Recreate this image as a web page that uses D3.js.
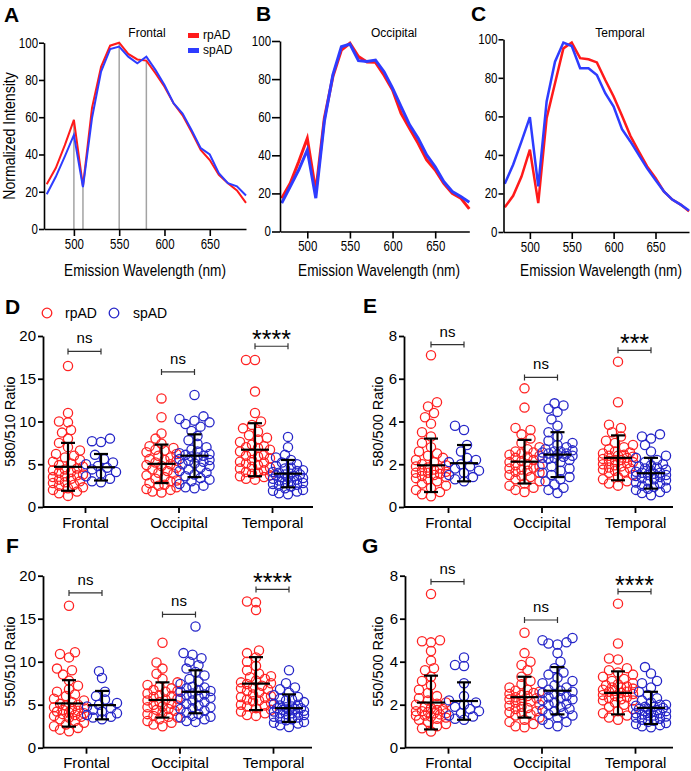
<!DOCTYPE html>
<html><head><meta charset="utf-8">
<script src="https://cdn.jsdelivr.net/npm/d3@7"></script>
<style>
body{margin:0;background:#fff;}
svg{display:block;}
text{font-family:"Liberation Sans",Arial,sans-serif;fill:#000;}
</style>
</head><body>
<svg id="c" width="691" height="771"></svg>
<script>
// ---------- spectra (A-C) ----------
const wavelengths = [470,480,490,500,510,520,530,540,550,560,570,580,590,600,610,620,630,640,650,660,670,680,690];
const frontalRp   = [24,32.7,45,58.6,23,65,87,98.4,100,94,91,90.4,83.6,76.4,67.5,61,52,42.5,37,29,24.6,20.7,14];
const frontalSp   = [18.7,28,39,50.5,22.5,59.5,84.5,96.6,97.9,92.5,89,92.5,85.4,77.3,67.5,62,53,43.4,40,30,24.6,22.9,18];
const occipitalRp = [17.5,25.3,36.7,48.9,21,59.4,81.3,95.3,98.8,91.8,89,88.8,82,74.3,62,54,46.3,37.6,32.3,25.3,20,17.5,11.9];
const occipitalSp = [14.9,23.6,32.3,42.8,17.5,57.7,82.2,97,98.4,89.7,89.2,90,83.9,75.2,65.6,56,49,40.2,34,26.2,21,18.4,15.4];
const temporalRp  = [12.8,18.8,28.8,42.7,15,59,77.2,95.3,98.3,90.2,89.6,88,78.9,70.3,60.3,49.9,41.8,34,28,21.1,16.8,14.2,10.7];
const temporalSp  = [25,34.9,47,59.6,23.7,67.7,88.4,98.3,96.5,85,85,81.5,72,65.1,53.4,47,40,33,27,21.1,16.8,14.2,11.2];
const markerWavelengths = [500,510,550,580];
const specTicksX = [500,550,600,650];
const specTicksY = [0,20,40,60,80,100];
const seriesNames = ["rpAD","spAD"];

// ---------- ratio scatter (D-G) ----------
const regions = ["Frontal","Occipital","Temporal"];
// D: 580/510
const D_frRp=[16.5,11.0,10.0,9.9,9.0,8.7,8.0,7.5,7.0,6.6,6.2,6.0,5.8,5.5,5.3,5.1,4.9,4.7,4.5,4.3,4.1,4.0,3.8,3.6,3.5,3.3,3.2,3.0,2.9,2.8,2.6,2.5,2.3,2.2,2.0,1.8,1.6,1.3,3.7,4.4];
const D_frSp=[8.0,7.7,7.6,6.1,5.6,5.2,5.0,4.8,4.6,4.4,4.1,3.9,3.6,3.3,3.0,2.9];
const D_ocRp=[12.7,10.5,8.6,8.0,7.4,7.1,6.9,6.6,6.4,6.2,6.0,5.8,5.6,5.4,5.2,5.0,4.8,4.6,4.4,4.2,4.0,3.9,3.7,3.5,3.3,3.1,3.0,2.8,2.6,2.5,2.3,2.1,2.0,1.8,1.7,4.9,5.5,6.7];
const D_ocSp=[13.1,10.6,10.3,10.1,9.9,9.7,9.4,8.9,8.3,7.8,7.4,7.0,6.7,6.5,6.3,6.1,6.0,5.8,5.6,5.5,5.3,5.1,5.0,4.8,4.6,4.4,4.2,4.0,3.8,3.6,3.4,3.2,3.0,2.7,2.5,2.3,2.2,5.9,6.2,5.4];
const D_teRp=[17.2,17.2,13.5,11.0,10.0,9.6,9.2,8.8,8.4,8.1,7.9,7.6,7.3,7.1,6.9,6.7,6.5,6.3,6.1,5.9,5.7,5.5,5.3,5.1,4.9,4.7,4.5,4.3,4.1,3.9,3.7,3.5,3.3,3.2,3.6,4.0,4.6,5.2,6.0,7.0];
const D_teSp=[8.2,7.0,6.1,5.8,5.5,5.2,5.0,4.8,4.6,4.5,4.3,4.2,4.0,3.9,3.8,3.7,3.6,3.5,3.4,3.3,3.2,3.1,3.0,2.9,2.8,2.6,2.5,2.4,2.2,2.0,1.9,1.8,1.6,1.5,3.5,3.8,4.1,2.7];
const D_mean=[4.7,4.65,5.05,6.0,6.7,3.9];
const D_sd=[2.8,1.55,2.25,2.5,3.1,1.6];
const D_sig=["ns","ns","****"], D_sigY=[18.2,15.8,18.8];
// E: 580/500
const E_frRp=[7.1,4.9,4.7,4.4,4.2,3.9,3.5,3.3,3.0,2.8,2.6,2.5,2.4,2.3,2.2,2.1,2.0,1.95,1.9,1.85,1.8,1.75,1.7,1.65,1.6,1.55,1.5,1.45,1.4,1.35,1.3,1.2,1.1,1.0,0.9,0.8,0.7,0.6,0.5,1.6];
const E_frSp=[3.8,3.6,2.9,2.6,2.3,2.2,2.1,2.0,1.9,1.8,1.7,1.6,1.5,1.4,1.3,1.2];
const E_ocRp=[5.55,4.65,3.7,3.6,3.4,3.2,3.0,2.8,2.7,2.6,2.5,2.45,2.4,2.3,2.2,2.15,2.1,2.0,1.95,1.9,1.85,1.8,1.7,1.65,1.6,1.5,1.45,1.4,1.3,1.2,1.1,1.0,0.9,0.8,0.7,2.55,2.35,1.75];
const E_ocSp=[4.85,4.75,4.6,4.45,4.1,3.8,3.5,3.3,3.1,3.0,2.9,2.8,2.7,2.65,2.6,2.55,2.5,2.45,2.4,2.35,2.3,2.25,2.2,2.1,2.0,1.9,1.8,1.7,1.6,1.5,1.4,1.3,1.2,1.05,0.9,0.8,0.65,2.6,2.5,2.3];
const E_teRp=[6.8,4.9,3.85,3.7,3.5,3.3,3.1,3.0,2.9,2.8,2.7,2.6,2.55,2.5,2.45,2.4,2.35,2.3,2.25,2.2,2.15,2.1,2.05,2.0,1.95,1.9,1.85,1.8,1.75,1.7,1.65,1.6,1.5,1.4,1.3,1.2,1.1,1.0,2.2,2.4];
const E_teSp=[3.4,3.3,3.2,2.9,2.6,2.4,2.3,2.2,2.1,2.0,1.95,1.9,1.85,1.8,1.75,1.7,1.65,1.6,1.55,1.5,1.45,1.4,1.35,1.3,1.25,1.2,1.15,1.1,1.0,0.95,0.9,0.85,0.8,0.7,0.65,0.55,1.6,1.5];
const E_mean=[1.95,2.05,2.12,2.45,2.3,1.58];
const E_sd=[1.25,0.85,1.02,1.05,1.05,0.72];
const E_sig=["ns","ns","***"], E_sigY=[7.6,6.06,7.33];
// F: 550/510
const F_frRp=[16.5,11.1,10.9,10.5,9.2,9.0,8.5,7.8,7.2,6.8,6.5,6.2,6.0,5.7,5.5,5.3,5.1,4.9,4.7,4.5,4.4,4.3,4.2,4.1,4.0,3.9,3.8,3.7,3.6,3.5,3.3,3.1,2.9,2.7,2.5,2.3,2.1,1.9,4.6,5.0];
const F_frSp=[8.9,8.1,6.5,6.0,5.6,5.2,5.0,4.8,4.6,4.4,4.2,4.0,3.8,3.6,3.5,3.3];
const F_ocRp=[12.2,9.9,9.2,8.6,8.0,7.6,7.3,7.1,6.9,6.7,6.5,6.3,6.1,5.9,5.7,5.5,5.3,5.1,4.9,4.7,4.5,4.3,4.1,3.9,3.7,3.5,3.3,3.1,2.9,2.7,2.5,5.0,5.6,6.0,4.8,4.4,3.6,6.6];
const F_ocSp=[14.1,11.0,10.8,10.4,10.0,9.6,9.2,8.8,8.4,8.0,7.7,7.4,7.1,6.9,6.7,6.5,6.3,6.1,5.9,5.7,5.5,5.3,5.1,4.9,4.7,4.5,4.3,4.1,3.9,3.7,3.5,3.3,3.1,3.0,6.6,6.2,5.8,7.0,4.6,3.6];
const F_teRp=[17.0,16.9,16.0,11.3,11.0,10.5,10.0,9.5,9.0,8.6,8.3,8.0,7.8,7.6,7.4,7.2,7.0,6.8,6.6,6.4,6.2,6.0,5.8,5.6,5.4,5.2,5.0,4.8,4.6,4.4,4.2,4.0,3.8,3.7,5.9,6.9,7.5,8.2,4.9,5.5];
const F_teSp=[9.0,7.5,7.0,6.8,6.4,6.1,5.9,5.7,5.5,5.3,5.1,4.9,4.8,4.7,4.6,4.5,4.4,4.3,4.2,4.1,4.0,3.9,3.8,3.6,3.4,3.2,3.0,2.8,2.6,2.4,4.6,4.4,5.0,3.5,3.3,2.9,5.6,4.0];
const F_mean=[5.15,4.95,5.55,6.5,7.45,4.6];
const F_sd=[2.7,1.65,2.05,2.5,3.08,1.6];
const F_sig=["ns","ns","****"], F_sigY=[18.0,15.5,18.4];
// G: 550/500
const G_frRp=[7.15,5.0,4.95,4.9,4.5,4.05,3.7,3.6,3.3,3.1,2.9,2.7,2.55,2.4,2.3,2.2,2.1,2.0,1.9,1.85,1.8,1.75,1.7,1.65,1.6,1.55,1.5,1.45,1.4,1.35,1.3,1.2,1.1,1.0,0.9,0.75,1.6,1.5,1.7,2.05];
const G_frSp=[4.2,3.85,3.8,3.0,2.4,2.2,2.1,2.0,1.9,1.8,1.7,1.6,1.5,1.45,1.35,1.3];
const G_ocRp=[5.35,4.4,4.0,3.85,3.6,3.3,3.1,2.95,2.8,2.7,2.6,2.5,2.45,2.4,2.3,2.25,2.2,2.1,2.0,1.95,1.9,1.8,1.7,1.65,1.6,1.5,1.4,1.3,1.2,1.1,1.0,0.95,2.35,2.55,2.15,1.85,2.65,1.55];
const G_ocSp=[5.1,5.0,4.9,4.85,4.8,4.4,4.0,3.7,3.4,3.25,3.1,3.0,2.9,2.8,2.7,2.6,2.5,2.4,2.3,2.2,2.1,2.0,1.9,1.8,1.7,1.6,1.5,1.4,1.3,1.2,1.1,1.0,2.65,2.55,2.35,2.25,2.05,1.75,3.5,1.55];
const G_teRp=[6.7,4.85,4.15,4.1,3.7,3.6,3.4,3.3,3.2,3.1,3.0,2.95,2.9,2.85,2.8,2.75,2.7,2.65,2.6,2.55,2.5,2.45,2.4,2.35,2.3,2.25,2.2,2.1,2.0,1.9,1.8,1.7,1.6,1.5,1.4,1.3,2.6,2.8,2.2,3.5];
const G_teSp=[3.75,3.45,3.1,3.0,2.8,2.6,2.45,2.3,2.2,2.1,2.0,1.95,1.9,1.85,1.8,1.75,1.7,1.65,1.6,1.55,1.5,1.45,1.4,1.35,1.3,1.25,1.2,1.15,1.1,1.05,1.0,0.95,1.8,1.9,2.0,1.7,1.6,1.5];
const G_mean=[2.1,2.17,2.35,2.65,2.55,1.85];
const G_sd=[1.25,0.87,0.95,1.1,1.0,0.75];
const G_sig=["ns","ns","****"], G_sigY=[7.72,5.94,7.26];

// ---------- drawing ----------
const svg = d3.select("#c");
const RED = "#ff1a1a", BLUE = "#2e3cff";
const SRED = "#ff2222", SBLUE = "#2626c8";

function letter(t, x, y){
  svg.append("text").attr("x",x).attr("y",y).attr("font-size",21).attr("font-weight","bold").text(t);
}
// condense a text horizontally (narrow-font look)
function condense(sel, ratio){
  sel.each(function(){
    const L = this.getComputedTextLength();
    d3.select(this).attr("textLength",L*ratio).attr("lengthAdjust","spacingAndGlyphs");
  });
}
// narrow label drawn through a scale transform
function narrowLabel(x, y, size, ratio, txt, rot){
  const t = rot ? `translate(${x},${y}) rotate(-90) scale(${ratio},1)` : `translate(${x},${y}) scale(${ratio},1)`;
  svg.append("text").attr("transform",t).attr("text-anchor","middle").attr("font-size",size).text(txt);
}

function spectrum(cfg){
  const x = d3.scaleLinear().domain([cfg.xmin,690]).range([cfg.x0,cfg.x1]);
  const y = d3.scaleLinear().domain([0,100]).range([cfg.y0,cfg.y1]);
  const g = svg.append("g");
  if(cfg.markers){
    cfg.markers.forEach(w=>{
      const i = wavelengths.indexOf(w);
      g.append("line").attr("x1",x(w)).attr("x2",x(w)).attr("y1",y(0)).attr("y2",y(cfg.rp[i]))
        .attr("stroke","#a3a3a3").attr("stroke-width",1.5);
    });
  }
  const line = d3.line().x((d,i)=>x(wavelengths[i])).y(d=>y(d));
  g.append("path").datum(cfg.rp).attr("d",line).attr("fill","none").attr("stroke",RED).attr("stroke-width",cfg.lw);
  g.append("path").datum(cfg.sp).attr("d",line).attr("fill","none").attr("stroke",BLUE).attr("stroke-width",cfg.lw);
  const ax = g.append("g").attr("transform",`translate(0,${cfg.y0})`)
    .call(d3.axisBottom(x).tickValues(specTicksX).tickSize(7).tickPadding(3).tickSizeOuter(0));
  const ay = g.append("g").attr("transform",`translate(${cfg.x0},0)`)
    .call(d3.axisLeft(y).tickValues(specTicksY).tickSize(cfg.tl).tickPadding(1).tickSizeOuter(0));
  [ax,ay].forEach(a=>{
    a.selectAll("path,line").attr("stroke","#000").attr("stroke-width",1.6);
    a.selectAll("text").attr("font-size",14).attr("fill","#000").call(condense,0.82);
  });
  narrowLabel(cfg.labelX, 276, 17, 0.8, "Emission Wavelength (nm)");
  g.append("text").attr("x",cfg.titleX).attr("y",37).attr("text-anchor","middle").attr("font-size",12).text(cfg.title);
}

spectrum({xmin:467,x0:44,x1:246,y0:229,y1:42.7,rp:frontalRp,sp:frontalSp,lw:2,tl:5,labelX:145,title:"Frontal",titleX:147,markers:markerWavelengths});
spectrum({xmin:468,x0:280,x1:469.3,y0:231.5,y1:41,rp:occipitalRp,sp:occipitalSp,lw:3,tl:8,labelX:379,title:"Occipital",titleX:394});
spectrum({xmin:468.5,x0:503.5,x1:689,y0:232,y1:39.3,rp:temporalRp,sp:temporalSp,lw:2.5,tl:5,labelX:601,title:"Temporal",titleX:620});

narrowLabel(15, 136, 16, 0.88, "Normalized Intensity", true);
// legend A
[RED,BLUE].forEach((c,i)=>{
  svg.append("rect").attr("x",188).attr("y",33+i*15).attr("width",11).attr("height",5).attr("fill",c);
  svg.append("text").attr("x",203).attr("y",38.5+i*15).attr("font-size",12).text(seriesNames[i]);
});
letter("A",4,22); letter("B",256,21); letter("C",471,21);

// beeswarm layout (positions only)
function swarm(vals, y, cx, minD, maxOff, step){
  const order = vals.map((v,i)=>({v,py:y(v)})).sort((a,b)=>a.v-b.v);
  const placed=[];
  order.forEach(p=>{
    let best=null,bestScore=-1;
    for(let k=0;k*step<=maxOff;k++){
      const cands = k===0?[0]:[-k*step,k*step];
      for(const off of cands){
        let md=Infinity;
        placed.forEach(q=>{const d=Math.hypot(q.px-(cx+off),q.py-p.py); if(d<md) md=d;});
        if(md>=minD){best=off;bestScore=Infinity;break;}
        if(md>bestScore){bestScore=md;best=off;}
      }
      if(bestScore===Infinity) break;
    }
    p.px=cx+best; placed.push(p);
  });
  return placed;
}

function ratioPanel(cfg){
  const y = d3.scaleLinear().domain([0,cfg.max]).range([cfg.y0,cfg.y1]);
  const x = d3.scalePoint().domain(regions).range([cfg.c0,cfg.c1]);
  const g = svg.append("g");
  const groups = cfg.data;
  groups.forEach((vals,gi)=>{
    const cat = regions[Math.floor(gi/2)];
    const isRp = gi%2===0;
    const cx = x(cat) + (isRp?-17:16);
    const pts = swarm(vals,y,cx,7.5,15,3);
    g.selectAll(null).data(pts).enter().append("circle")
      .attr("cx",d=>d.px).attr("cy",d=>d.py).attr("r",4.6)
      .attr("fill","none").attr("stroke",isRp?SRED:SBLUE).attr("stroke-width",1.3);
  });
  groups.forEach((vals,gi)=>{
    const cat = regions[Math.floor(gi/2)];
    const cx = x(cat) + (gi%2===0?-17:16);
    const m = cfg.mean[gi], s = cfg.sd[gi];
    g.append("line").attr("x1",cx).attr("x2",cx).attr("y1",y(m-s)).attr("y2",y(m+s)).attr("stroke","#000").attr("stroke-width",2.2);
    g.append("line").attr("x1",cx-14).attr("x2",cx+14).attr("y1",y(m)).attr("y2",y(m)).attr("stroke","#000").attr("stroke-width",2.2);
    [m-s,m+s].forEach(v=>g.append("line").attr("x1",cx-7).attr("x2",cx+7).attr("y1",y(v)).attr("y2",y(v)).attr("stroke","#000").attr("stroke-width",2.2));
  });
  regions.forEach((r,i)=>{
    const xa = x(r)-17, xb = x(r)+16, yy = y(cfg.sigY[i]);
    g.append("path").attr("d",`M${xa},${yy-3}V${yy+3}M${xa},${yy}H${xb}M${xb},${yy-3}V${yy+3}`)
      .attr("stroke","#333").attr("stroke-width",1.2).attr("fill","none");
    const t = cfg.sig[i];
    if(t==="ns"){
      g.append("text").attr("x",(xa+xb)/2).attr("y",yy-8).attr("text-anchor","middle").attr("font-size",15).text(t);
    } else {
      g.append("text").attr("x",(xa+xb)/2).attr("y",yy+2).attr("text-anchor","middle").attr("font-size",25).text(t);
    }
  });
  const ay = g.append("g").attr("transform",`translate(${cfg.x0},0)`)
    .call(d3.axisLeft(y).tickValues(cfg.ticks).tickSize(5).tickPadding(2).tickSizeOuter(0));
  const ax = g.append("g").attr("transform",`translate(0,${cfg.y0})`)
    .call(d3.axisBottom(x).tickSize(6).tickPadding(4).tickSizeOuter(0));
  ax.select(".domain").attr("d",`M${cfg.x0},0H${cfg.x1}`);
  [ax,ay].forEach(a=>{
    a.selectAll("path,line").attr("stroke","#000").attr("stroke-width",1.8);
    a.selectAll("text").attr("font-size",15).attr("fill","#000");
  });
  g.append("text").attr("transform",`translate(${cfg.labelX},${(cfg.y0+cfg.y1)/2}) rotate(-90)`)
    .attr("text-anchor","middle").attr("font-size",14.5).text(cfg.label);
  letter(cfg.letter,cfg.lx,cfg.ly);
}

ratioPanel({x0:43,x1:313,c0:85,c1:272,y0:507,y1:336,max:20,ticks:[0,5,10,15,20],label:"580/510 Ratio",labelX:15,
  data:[D_frRp,D_frSp,D_ocRp,D_ocSp,D_teRp,D_teSp],mean:D_mean,sd:D_sd,sig:D_sig,sigY:D_sigY,letter:"D",lx:5,ly:314});
ratioPanel({x0:404,x1:673,c0:448,c1:635,y0:507,y1:336,max:8,ticks:[0,2,4,6,8],label:"580/500 Ratio",labelX:383,
  data:[E_frRp,E_frSp,E_ocRp,E_ocSp,E_teRp,E_teSp],mean:E_mean,sd:E_sd,sig:E_sig,sigY:E_sigY,letter:"E",lx:363,ly:313});
ratioPanel({x0:43,x1:312,c0:86,c1:273,y0:747.7,y1:575.7,max:20,ticks:[0,5,10,15,20],label:"550/510 Ratio",labelX:15,
  data:[F_frRp,F_frSp,F_ocRp,F_ocSp,F_teRp,F_teSp],mean:F_mean,sd:F_sd,sig:F_sig,sigY:F_sigY,letter:"F",lx:6,ly:553});
ratioPanel({x0:405,x1:673,c0:448,c1:635,y0:747.7,y1:575.7,max:8,ticks:[0,2,4,6,8],label:"550/500 Ratio",labelX:383,
  data:[G_frRp,G_frSp,G_ocRp,G_ocSp,G_teRp,G_teSp],mean:G_mean,sd:G_sd,sig:G_sig,sigY:G_sigY,letter:"G",lx:362,ly:553});

// legend D
[SRED,SBLUE].forEach((c,i)=>{
  svg.append("circle").attr("cx",47+i*67).attr("cy",313).attr("r",4.8).attr("fill","none").attr("stroke",c).attr("stroke-width",1.3);
  svg.append("text").attr("x",65+i*68).attr("y",318).attr("font-size",14).text(seriesNames[i]);
});
</script>
</body></html>
